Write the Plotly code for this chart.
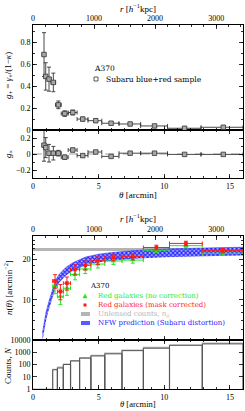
import numpy as np
import plotly.graph_objects as go

W, H = 245, 411
F = "Liberation Serif"
FL = "DejaVu Serif"

# ---------------- data: shear profile (top) ----------------
g_edges = [0.70, 0.88, 1.10, 1.37, 1.72, 2.15, 2.68, 3.36, 4.19, 5.24, 6.55, 8.2, 10.25, 12.8, 16.0]
g_theta = [0.84, 0.97, 1.22, 1.55, 1.93, 2.42, 3.03, 3.79, 4.78, 5.95, 7.4, 9.26, 11.55, 14.5]
g_plus = [0.69, 0.49, 0.465, 0.435, 0.23, 0.15, 0.16, 0.10, 0.085, 0.062, 0.055, 0.037, 0.016, 0.025]
g_plus_err = [0.2, 0.125, 0.11, 0.085, 0.035, 0.025, 0.022, 0.017, 0.015, 0.012, 0.010, 0.008, 0.008, 0.008]
g_cross = [0.11, 0.08, 0.01, 0.01, 0.01, -0.04, 0.05, -0.02, 0.025, -0.03, 0.01, 0.01, -0.005, -0.005]
g_cross_err = g_plus_err

# ---------------- data: number counts (bottom) ----------------
n_edges = [1.5, 1.86, 2.31, 2.86, 3.55, 4.41, 5.47, 6.78, 8.41, 10.4, 12.9, 16.0]
n_theta = [1.68, 2.085, 2.585, 3.2, 3.98, 4.94, 6.12, 7.6, 9.4, 11.65, 14.45]
n_red = [13.8, 11.5, 13.3, 16.8, 18.1, 19.6, 20.8, 21.0, 24.6, 26.4, 23.3]
n_red_err = [1.6, 1.5, 1.5, 1.5, 1.4, 1.3, 1.2, 1.1, 1.0, 1.0, 0.9]
n_green = [12.6, 10.6, 12.2, 15.5, 17.0, 18.5, 19.5, 19.8, 23.5, 25.4, 22.3]
n_green_err = [1.5, 1.4, 1.4, 1.4, 1.3, 1.2, 1.1, 1.0, 0.9, 0.9, 0.8]

n0_low, n0_high = 23.2, 24.4

nfw_theta = [0.72, 0.85, 1.0, 1.2, 1.5, 1.7, 2.0, 2.5, 3.0, 4.0, 5.0, 6.0, 8.0, 10.0, 13.0, 16.0]
nfw_mid = [5.3, 6.4, 7.6, 9.0, 11.5, 13.0, 14.5, 16.3, 17.6, 19.5, 20.5, 21.1, 21.9, 22.4, 22.8, 23.1]
nfw_halfwidth = 0.07  # fractional

count_edges_dark = [1.5, 1.86, 2.31, 2.86, 3.55, 4.41, 5.47, 6.78, 8.41, 10.4, 12.9, 16.0]
counts_dark = [37, 52, 100, 195, 330, 500, 740, 1350, 2130, 3700, 4800]
count_edges_gray = [0.0, 1.5, 1.86, 2.31, 2.86, 3.55, 4.41, 5.47, 6.78, 8.41, 10.4, 12.9, 16.0]
counts_gray = [1.0, 40, 60, 110, 210, 360, 560, 850, 1500, 2500, 3900, 5600]

kpc_per_arcmin = 215.0
theta_max = 16.0

RED = "#ff1a1a"
GREEN = "#1ee81e"
BLUE = "#2424ff"
GRAY = "#b4b4b4"


def px(p):
    return p / W


def py(p):
    return 1 - p / H


xd = [px(33), px(243)]

fig = go.Figure()

# ---------- top panel traces ----------
ge = np.array(g_edges)
gt = np.array(g_theta)
ex_plus = ge[1:] - gt
ex_minus = gt - ge[:-1]

mk = dict(symbol="square", size=4.5, color="#a8a8a8", line=dict(color="#333333", width=0.8))
fig.add_trace(go.Scatter(
    x=g_theta, y=g_plus, xaxis="x3", yaxis="y", mode="markers", marker=mk,
    error_y=dict(type="data", array=g_plus_err, color="#333333", thickness=0.9, width=2),
    error_x=dict(type="data", array=ex_plus, arrayminus=ex_minus, color="#333333", thickness=0.9, width=2),
    showlegend=False))
fig.add_trace(go.Scatter(
    x=g_theta, y=g_cross, xaxis="x", yaxis="y2", mode="markers", marker=mk,
    error_y=dict(type="data", array=g_cross_err, color="#333333", thickness=0.9, width=2),
    error_x=dict(type="data", array=ex_plus, arrayminus=ex_minus, color="#333333", thickness=0.9, width=2),
    showlegend=False))
fig.add_trace(go.Scatter(x=[0], y=[None], xaxis="x2", yaxis="y", mode="markers",
                         showlegend=False, hoverinfo="skip"))

# ---------- bottom panel traces ----------
tgrid = [0, theta_max]
fig.add_trace(go.Scatter(x=tgrid, y=[n0_low, n0_low], xaxis="x6", yaxis="y3", mode="lines",
                         line=dict(width=0, color=GRAY), showlegend=False, hoverinfo="skip"))
fig.add_trace(go.Scatter(x=tgrid, y=[n0_high, n0_high], xaxis="x6", yaxis="y3", mode="lines",
                         line=dict(width=0, color=GRAY), fill="tonexty", fillcolor=GRAY,
                         showlegend=False, hoverinfo="skip"))

nm = np.array(nfw_mid)
fig.add_trace(go.Scatter(x=nfw_theta, y=nm * (1 - nfw_halfwidth), xaxis="x6", yaxis="y3", mode="lines",
                         line=dict(width=0, color=BLUE), showlegend=False, hoverinfo="skip"))
fig.add_trace(go.Scatter(x=nfw_theta, y=nm * (1 + nfw_halfwidth), xaxis="x6", yaxis="y3", mode="lines",
                         line=dict(width=0.5, color=BLUE), fill="tonexty",
                         fillcolor="rgba(120,120,255,0.9)",
                         fillpattern=dict(shape="x", fgcolor=BLUE, bgcolor="#b8b8ff",
                                          size=3, solidity=0.6),
                         showlegend=False, hoverinfo="skip"))

ne = np.array(n_edges)
nt = np.array(n_theta)
nx_plus = ne[1:] - nt
nx_minus = nt - ne[:-1]
fig.add_trace(go.Scatter(
    x=n_theta, y=n_green, xaxis="x6", yaxis="y3", mode="markers",
    marker=dict(symbol="triangle-up", size=5, color=GREEN),
    error_y=dict(type="data", array=n_green_err, color=GREEN, thickness=1, width=2),
    error_x=dict(type="data", array=nx_plus, arrayminus=nx_minus, color=GREEN, thickness=1, width=2),
    showlegend=False))
fig.add_trace(go.Scatter(
    x=n_theta, y=n_red, xaxis="x6", yaxis="y3", mode="markers",
    marker=dict(symbol="square", size=3.5, color=RED),
    error_y=dict(type="data", array=n_red_err, color=RED, thickness=1, width=2),
    error_x=dict(type="data", array=nx_plus, arrayminus=nx_minus, color=RED, thickness=1, width=2),
    showlegend=False))
fig.add_trace(go.Scatter(x=[0], y=[None], xaxis="x5", yaxis="y3", mode="markers",
                         showlegend=False, hoverinfo="skip"))

ceg = np.array(count_edges_gray)
fig.add_trace(go.Bar(x=(ceg[1:] + ceg[:-1]) / 2, y=counts_gray, width=np.diff(ceg),
                     xaxis="x4", yaxis="y4", marker=dict(color="rgba(0,0,0,0)",
                                                         line=dict(color=GRAY, width=1.2)),
                     showlegend=False, hoverinfo="skip"))
ced = np.array(count_edges_dark)
fig.add_trace(go.Bar(x=(ced[1:] + ced[:-1]) / 2, y=counts_dark, width=np.diff(ced),
                     xaxis="x4", yaxis="y4", marker=dict(color="rgba(0,0,0,0)",
                                                         line=dict(color="#555555", width=1)),
                     showlegend=False, hoverinfo="skip"))

# ---------- axes ----------
tf = dict(family=F, size=8, color="black")
common = dict(showline=True, linecolor="black", linewidth=1, ticks="inside", ticklen=4,
              tickcolor="black", tickwidth=0.8, showgrid=False, zeroline=False, tickfont=tf)
minor_theta = dict(dtick=1, ticklen=2, ticks="inside", tickcolor="black")
minor_r = dict(dtick=200, ticklen=2, ticks="inside", tickcolor="black")

r_max = theta_max * kpc_per_arcmin

fig.update_layout(
    template="none",
    width=W, height=H, margin=dict(l=0, r=0, t=0, b=0),
    paper_bgcolor="white", plot_bgcolor="white", barmode="overlay", bargap=0,
    font=dict(family=F, size=8, color="black"),
    xaxis=dict(common, domain=xd, anchor="y2", range=[0, theta_max], tickvals=[0, 5, 10, 15],
               mirror="ticks", minor=minor_theta),
    xaxis3=dict(common, domain=xd, anchor="y", range=[0, theta_max], tickvals=[0, 5, 10, 15],
                showticklabels=False, minor=minor_theta),
    xaxis2=dict(common, domain=xd, anchor="y", overlaying="x3", side="top", range=[0, r_max],
                tickvals=[0, 1000, 2000, 3000], minor=minor_r),
    yaxis=dict(common, domain=[py(130), py(25)], anchor="x3", range=[0, 0.96],
               tickvals=[0, 0.2, 0.4, 0.6, 0.8], mirror="ticks",
               minor=dict(dtick=0.1, ticklen=2, ticks="inside", tickcolor="black")),
    yaxis2=dict(common, domain=[py(178), py(130)], anchor="x", range=[-0.3, 0.3],
                tickvals=[-0.2, 0, 0.2], mirror="ticks",
                minor=dict(dtick=0.1, ticklen=2, ticks="inside", tickcolor="black")),
    xaxis4=dict(common, domain=xd, anchor="y4", range=[0, theta_max], tickvals=[0, 5, 10, 15],
                mirror="ticks", minor=minor_theta),
    xaxis6=dict(common, domain=xd, anchor="y3", range=[0, theta_max], tickvals=[0, 5, 10, 15],
                showticklabels=False, minor=minor_theta),
    xaxis5=dict(common, domain=xd, anchor="y3", overlaying="x6", side="top", range=[0, r_max],
                tickvals=[0, 1000, 2000, 3000], minor=minor_r),
    yaxis3=dict(common, domain=[py(340), py(236)], anchor="x6", type="log",
                range=[np.log10(5), np.log10(30)], tickvals=[10, 20], mirror="ticks",
                minor=dict(tickvals=[6, 7, 8, 9, 12, 14, 16, 18, 22, 24, 26, 28], ticklen=2,
                           ticks="inside", tickcolor="black")),
    yaxis4=dict(common, domain=[py(389), py(340)], anchor="x4", type="log", range=[0, 4],
                tickvals=[1, 10, 100, 1000, 10000], ticktext=["1", "10", "100", "1000", "10000"],
                mirror="ticks"),
)

fig.add_shape(type="line", xref="x", yref="y2", x0=0, x1=theta_max, y0=0, y1=0,
              line=dict(color="#888888", width=0.8, dash="dash"), layer="below")

# ---------- text ----------
ann = []


def txt(x, y, s, size=8, color="black", angle=0, xanchor="center", family=F):
    ann.append(dict(x=px(x), y=py(y), xref="paper", yref="paper", text=s, showarrow=False,
                    font=dict(family=family, size=size, color=color), textangle=angle,
                    xanchor=xanchor, yanchor="middle", align="left"))


txt(138, 8, "<i>r</i> [<i>h</i><sup>−1</sup>kpc]", size=9)
txt(138, 195, "<i>θ</i> [arcmin]", size=9)
txt(8, 76, "<i>g</i><sub>+</sub> = <i>γ</i><sub>+</sub>/(1−<i>κ</i>)", size=9, angle=-90)
txt(8, 154, "<i>g</i><sub>×</sub>", size=9, angle=-90)
txt(92, 68, "A370", size=7.5, xanchor="left", family=FL)
txt(104, 79, "Subaru blue+red sample", size=7.5, xanchor="left", family=FL)

txt(138, 218, "<i>r</i> [<i>h</i><sup>−1</sup>kpc]", size=9)
txt(138, 404, "<i>θ</i> [arcmin]", size=8.5)
txt(8, 288, "<i>n</i>(<i>θ</i>) [arcmin<sup>−2</sup>]", size=9, angle=-90)
txt(8, 366, "Counts, <i>N</i>", size=9, angle=-90)
txt(88, 286, "A370", size=7, xanchor="left", family=FL)
legend_lines = (
    f"<span style='color:{GREEN}'>Red galaxies (no correction)</span><br>"
    f"<span style='color:{RED}'>Red galaxies (mask corrected)</span><br>"
    f"<span style='color:{GRAY}'>Unlensed counts, <i>n</i><sub>0</sub></span><br>"
    f"<span style='color:{BLUE}'>NFW prediction (Subaru distortion)</span>"
)
txt(96, 309.5, legend_lines, size=7, xanchor="left", family=FL)
fig.update_layout(annotations=ann)

# legend symbols
fig.add_shape(type="rect", xref="paper", yref="paper", x0=px(94), x1=px(98), y0=py(81), y1=py(77),
              line=dict(color="#333333", width=0.8), fillcolor="white")
fig.add_shape(type="path", xref="paper", yref="paper",
              path=f"M {px(83)},{py(298)} L {px(87)},{py(298)} L {px(85)},{py(294)} Z",
              line=dict(color=GREEN, width=0.5), fillcolor=GREEN)
fig.add_shape(type="rect", xref="paper", yref="paper", x0=px(83.5), x1=px(86.5), y0=py(306.5), y1=py(303.5),
              line=dict(color=RED, width=0), fillcolor=RED)
fig.add_shape(type="rect", xref="paper", yref="paper", x0=px(81), x1=px(90), y0=py(316), y1=py(312),
              line=dict(width=0), fillcolor=GRAY)
fig.add_shape(type="rect", xref="paper", yref="paper", x0=px(81), x1=px(90), y0=py(325), y1=py(321),
              line=dict(width=0), fillcolor="#5a5aff")

fig.write_html("out.html",
               config=dict(displayModeBar=False, staticPlot=True, displaylogo=False),
               post_script="document.documentElement.style.margin='0';"
                           "document.body.style.margin='0';document.body.style.overflow='hidden';")
